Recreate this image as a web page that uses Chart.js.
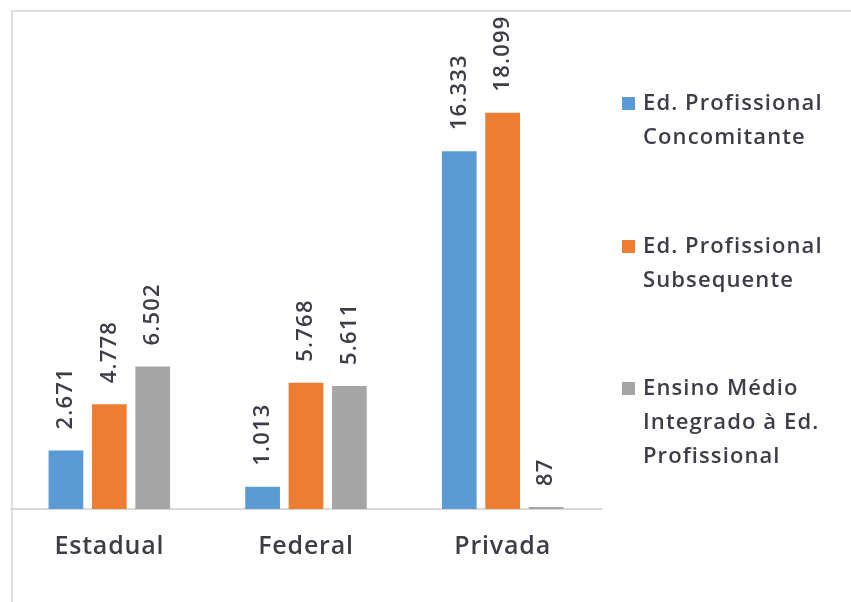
<!DOCTYPE html>
<html>
<head>
<meta charset="utf-8">
<script src="https://cdn.jsdelivr.net/npm/chart.js@4/dist/chart.umd.min.js"></script>
<style>
  html,body{margin:0;padding:0;background:#fff;}
  #wrap{width:851px;height:602px;position:relative;}
</style>
</head>
<body>
<div id="wrap"><canvas id="chart" width="851" height="602"></canvas></div>
<script>
// data
const categories = ['Estadual', 'Federal', 'Privada'];
const seriesNames = [
  ['Ed. Profissional', 'Concomitante'],
  ['Ed. Profissional', 'Subsequente'],
  ['Ensino Médio', 'Integrado à Ed.', 'Profissional'],
];
const concomitante = [2671, 1013, 16333];
const subsequente = [4778, 5768, 18099];
const integrado = [6502, 5611, 87];
const colors = ['#5b9bd5', '#ed7d31', '#a5a5a5'];

const TXT = '#3d3d48';
const FONT = '"Open Sans", "Liberation Sans", sans-serif';
const fmt = v => String(v).replace(/\B(?=(\d{3})+(?!\d))/g, '.');

// light frame on the left and top edge
const framePlugin = {
  id: 'frame',
  beforeDraw(c){
    const ctx = c.ctx;
    ctx.save();
    ctx.strokeStyle = '#dedede'; ctx.lineWidth = 2;
    ctx.beginPath(); ctx.moveTo(12, 602); ctx.lineTo(12, 11); ctx.lineTo(851, 11); ctx.stroke();
    ctx.restore();
    ctx.letterSpacing = '0.8px'; // widen tick text a bit
  },
  afterDraw(c){ c.ctx.letterSpacing = '0px'; }
};

// rotated value labels above each bar
const valueLabels = {
  id: 'valueLabels',
  afterDatasetsDraw(c){
    const ctx = c.ctx;
    ctx.save();
    ctx.font = '600 22px ' + FONT; ctx.fillStyle = TXT;
    ctx.letterSpacing = '1.2px';
    ctx.textAlign = 'left'; ctx.textBaseline = 'middle';
    c.data.datasets.forEach((ds, i)=>{
      c.getDatasetMeta(i).data.forEach((bar, j)=>{
        ctx.save();
        ctx.translate(bar.x, bar.y - 21);
        ctx.rotate(-Math.PI/2);
        ctx.fillText(fmt(ds.data[j]), 0, 0);
        ctx.restore();
      });
    });
    ctx.restore();
  }
};

// legend on the right, multi-line entries
const sideLegend = {
  id: 'sideLegend',
  afterDraw(c){
    const ctx = c.ctx;
    const tops = [104, 247, 389], lh = 34;
    ctx.save();
    ctx.font = '600 22px ' + FONT; ctx.fillStyle = TXT;
    ctx.letterSpacing = '1.1px';
    ctx.textAlign = 'left'; ctx.textBaseline = 'middle';
    c.data.datasets.forEach((ds, i)=>{
      ctx.fillStyle = ds.backgroundColor;
      ctx.fillRect(622, tops[i] - 7, 13, 13);
      ctx.fillStyle = TXT;
      seriesNames[i].forEach((line, k)=> ctx.fillText(line, 643, tops[i] + k*lh));
    });
    ctx.restore();
  }
};

const series = [concomitante, subsequente, integrado];
new Chart(document.getElementById('chart'), {
  type: 'bar',
  data: {
    labels: categories,
    datasets: series.map((d, i)=>({
      label: seriesNames[i].join(' '),
      data: d,
      backgroundColor: colors[i],
      categoryPercentage: 0.662,
      barPercentage: 0.8,
    }))
  },
  options: {
    responsive: false,
    animation: false,
    layout: { padding: { top: 71, left: 11, right: 250, bottom: 17 } },
    plugins: { legend: { display: false }, tooltip: { enabled: false } },
    scales: {
      x: {
        grid: { display: false, drawTicks: false },
        border: { display: true, color: '#d9d9d9', width: 2 },
        ticks: { color: TXT, font: { family: FONT, size: 25, weight: '600' }, padding: 23 }
      },
      y: { display: false, min: 0, max: 20000 }
    }
  },
  plugins: [framePlugin, valueLabels, sideLegend]
});
</script>
</body>
</html>
